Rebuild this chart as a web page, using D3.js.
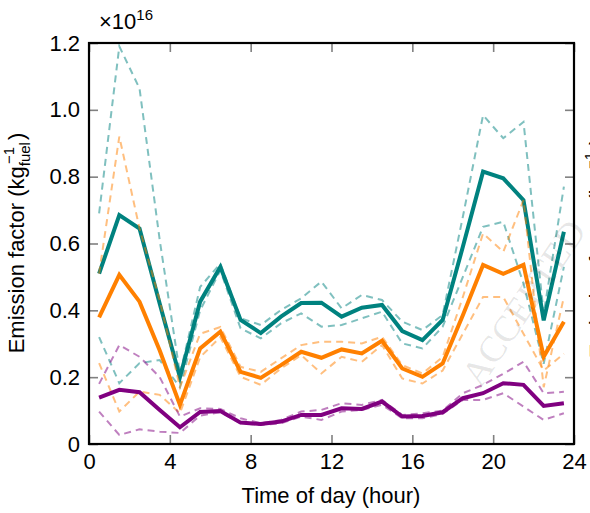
<!DOCTYPE html>
<html>
<head>
<meta charset="utf-8">
<script src="https://cdn.jsdelivr.net/npm/d3@7"></script>
<style>
  body { margin: 0; background: #fff; }
  svg { display: block; font-family: "Liberation Sans", Arial, sans-serif; }
</style>
</head>
<body>
<svg id="chart" width="590" height="513"></svg>
<script>
// hour of day (bin centres)
var hours = [0.5,1.5,2.5,3.5,4.5,5.5,6.5,7.5,8.5,9.5,10.5,11.5,12.5,13.5,14.5,15.5,16.5,17.5,18.5,19.5,20.5,21.5,22.5,23.5]

// emission factors, units of 1e16 per kg fuel
var tealMean = [0.51,0.685,0.645,0.42,0.20,0.426,0.53,0.371,0.332,0.381,0.422,0.423,0.381,0.408,0.416,0.338,0.311,0.371,0.59,0.815,0.795,0.73,0.37,0.635]
var tealHi   = [0.69,1.19,1.064,0.61,0.21,0.47,0.54,0.376,0.356,0.401,0.436,0.486,0.406,0.446,0.431,0.366,0.341,0.386,0.68,0.984,0.915,0.964,0.39,0.77]
var tealLo   = [0.32,0.182,0.242,0.251,0.17,0.40,0.52,0.346,0.316,0.361,0.391,0.351,0.356,0.376,0.396,0.301,0.286,0.351,0.50,0.65,0.665,0.48,0.24,0.53]

var orangeMean = [0.379,0.506,0.426,0.28,0.117,0.286,0.336,0.216,0.198,0.236,0.276,0.258,0.283,0.271,0.309,0.226,0.201,0.241,0.385,0.536,0.509,0.536,0.261,0.366]
var orangeHi   = [0.51,0.92,0.645,0.43,0.17,0.33,0.35,0.231,0.216,0.256,0.296,0.306,0.306,0.301,0.321,0.236,0.211,0.26,0.44,0.63,0.575,0.73,0.17,0.44]
var orangeLo   = [0.242,0.097,0.157,0.147,0.092,0.26,0.32,0.201,0.177,0.226,0.266,0.211,0.261,0.246,0.296,0.196,0.181,0.22,0.33,0.44,0.44,0.33,0.22,0.27]

var purpleMean = [0.139,0.162,0.155,0.102,0.05,0.096,0.099,0.064,0.060,0.067,0.087,0.087,0.107,0.105,0.127,0.082,0.084,0.095,0.137,0.152,0.182,0.177,0.114,0.122]
var purpleHi   = [0.18,0.296,0.261,0.20,0.082,0.107,0.105,0.077,0.062,0.072,0.097,0.102,0.122,0.117,0.132,0.087,0.092,0.10,0.152,0.177,0.21,0.246,0.152,0.156]
var purpleLo   = [0.097,0.027,0.044,0.037,0.033,0.085,0.095,0.062,0.057,0.062,0.082,0.072,0.097,0.102,0.117,0.077,0.077,0.09,0.132,0.132,0.152,0.112,0.072,0.092]

var xTicks = [0,4,8,12,16,20,24]
var yTicks = [0,0.2,0.4,0.6,0.8,1.0,1.2]

var svg = d3.select('#chart')
var pl = 89, pr = 574, pt = 43, pb = 444

var x = d3.scaleLinear().domain([0,24]).range([pl,pr])
var y = d3.scaleLinear().domain([0,1.2]).range([pb,pt])

var yfmt = function (d) { return d === 0 ? '0' : d3.format('.1f')(d) }

// axes, ticks pointing inward
var gx = svg.append('g').attr('transform','translate(0,'+pb+')')
  .call(d3.axisBottom(x).tickValues(xTicks).tickSize(-9).tickSizeOuter(0).tickPadding(9).tickFormat(d3.format('d')))
var gy = svg.append('g').attr('transform','translate('+pl+',0)')
  .call(d3.axisLeft(y).tickValues(yTicks).tickSize(-9).tickSizeOuter(0).tickPadding(9).tickFormat(yfmt))
var gt = svg.append('g').attr('transform','translate(0,'+pt+')')
  .call(d3.axisTop(x).tickValues(xTicks).tickSize(-9).tickSizeOuter(0).tickFormat(''))
var gr = svg.append('g').attr('transform','translate('+pr+',0)')
  .call(d3.axisRight(y).tickValues(yTicks).tickSize(-9).tickSizeOuter(0).tickFormat(''))

;[gx,gy,gt,gr].forEach(function (g) {
  g.select('.domain').remove()
  g.selectAll('line').attr('stroke','#808080').attr('stroke-width',1.6)
  g.selectAll('text').attr('fill','#000').style('font-size','22px').style('font-family','"Liberation Sans", Arial, sans-serif')
})

var line = d3.line().x(function (d, i) { return x(hours[i]) }).y(function (d) { return y(d) })

var series = [
  { mean: tealMean, hi: tealHi, lo: tealLo, color: '#00827f' }
, { mean: orangeMean, hi: orangeHi, lo: orangeLo, color: '#ff8000' }
, { mean: purpleMean, hi: purpleHi, lo: purpleLo, color: '#800080' }
]

var plot = svg.append('g')

series.forEach(function (s) {
  plot.append('path').datum(s.mean)
    .attr('d', line).attr('fill','none').attr('stroke', s.color)
    .attr('stroke-width', 4).attr('stroke-linejoin','miter')
  ;[s.hi, s.lo].forEach(function (band) {
    plot.append('path').datum(band)
      .attr('d', line).attr('fill','none').attr('stroke', s.color)
      .attr('stroke-opacity', 0.5).attr('stroke-width', 2)
      .attr('stroke-dasharray','7,5')
  })
})

// frame
svg.append('rect')
  .attr('x', pl).attr('y', pt).attr('width', pr-pl).attr('height', pb-pt)
  .attr('fill','none').attr('stroke','#000').attr('stroke-width',2.2)

// multiplier
var mult = svg.append('text').attr('x', 99).attr('y', 29).style('font-size','22px')
mult.append('tspan').text('\u00d710')
mult.append('tspan').attr('dy',-9).style('font-size','15px').text('16')

// y label, drawn twice: this panel and the neighbouring one cut by the page edge
function ylabel(tx, ty) {
  var t = svg.append('text')
    .attr('transform','translate('+tx+','+ty+') rotate(-90)')
    .attr('text-anchor','middle').style('font-size','22px')
  t.append('tspan').text('Emission factor (kg')
  t.append('tspan').attr('dy',6).style('font-size','15px').text('fuel')
  t.append('tspan').attr('dx',-22).attr('dy',-16).style('font-size','15px').text('\u22121')
  t.append('tspan').attr('dx',7).attr('dy',10).text(')')
}
ylabel(24, 243)
ylabel(605, 248)

// x label
svg.append('text').attr('x', 331).attr('y', 503).attr('text-anchor','middle')
  .style('font-size','22px').text('Time of day (hour)')

// watermark
svg.append('text')
  .attr('transform','translate(527,305) rotate(-56)')
  .attr('text-anchor','middle').attr('dominant-baseline','middle')
  .style('font-family','"Liberation Serif", "DejaVu Serif", serif')
  .style('font-size','37px').attr('fill','#000').attr('fill-opacity',0.1)
  .text('ACCEPTED')
</script>
</body>
</html>
